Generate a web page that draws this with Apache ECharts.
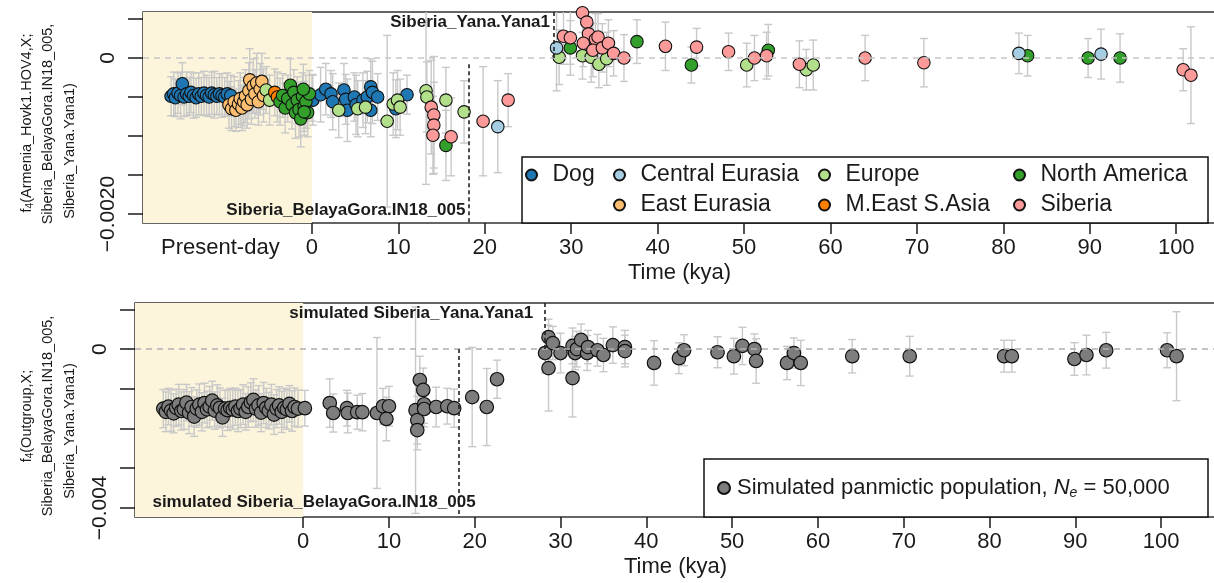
<!DOCTYPE html>
<html>
<head>
<meta charset="utf-8">
<title>f4 over time</title>
<style>
  html, body { margin: 0; padding: 0; background: #fff; }
  #chart { width: 1214px; height: 583px; }
</style>
<script src="https://cdn.jsdelivr.net/npm/echarts/dist/echarts.min.js"></script>
</head>
<body>
<div id="chart"></div>
<script>
// axis extents and ticks
var TOP_X = [-19.55, 104.6];
var TOP_Y = [-0.002115, 0.00059];
var BOT_X = [-19.6, 106.4];
var BOT_Y = [-0.00423, 0.00116];
var xTicks = [0, 10, 20, 30, 40, 50, 60, 70, 80, 90, 100];
var topYTicks = [-0.002, -0.0015, -0.001, -0.0005, 0, 0.0005];
var botYTicks = [-0.004, -0.003, -0.002, -0.001, 0, 0.001];
var topYLabels = [-0.002, 0];
var botYLabels = [-0.004, 0];
var presentDayAt = -10.6;

// reference samples (kya)
var belayaGoraAge = 18.1;
var yanaAge = 28.0;

// [time kya, f4, std err]
var dog = [
  [-16.3,-0.00049,0.00025],[-16.0,-0.00046,0.00028],[-15.8,-0.00051,0.00024],[-15.5,-0.00045,0.00026],
  [-15.2,-0.00048,0.00030],[-15.0,-0.00033,0.00027],[-14.8,-0.00050,0.00025],[-14.5,-0.00046,0.00028],
  [-14.2,-0.00049,0.00024],[-14.0,-0.00044,0.00026],[-13.7,-0.00048,0.00029],[-13.4,-0.00051,0.00025],
  [-13.1,-0.00046,0.00027],[-12.8,-0.00049,0.00024],[-12.5,-0.00045,0.00028],[-12.2,-0.00048,0.00026],
  [-11.9,-0.00050,0.00025],[-11.6,-0.00045,0.00027],[-11.3,-0.00047,0.00030],[-11.0,-0.00049,0.00024],
  [-10.7,-0.00046,0.00026],[-10.4,-0.00048,0.00028],[-10.1,-0.00050,0.00025],[-9.8,-0.00046,0.00027],
  [-9.4,-0.00048,0.00026],
  [0.0,-0.00051,0.00030],[0.1,-0.00054,0.00032],[1.0,-0.00047,0.00035],[1.6,-0.00040,0.00033],
  [2.2,-0.00046,0.00030],[2.4,-0.00056,0.00036],[3.7,-0.00041,0.00034],[3.9,-0.00053,0.00032],
  [4.1,-0.00067,0.00040],[4.9,-0.00050,0.00031],[5.1,-0.00060,0.00038],[5.9,-0.00054,0.00035],
  [6.4,-0.00050,0.00033],[6.8,-0.00037,0.00036],[7.0,-0.00044,0.00040],[6.8,-0.00067,0.00034],
  [7.6,-0.00050,0.00030],[9.7,-0.00065,0.00037],[11.0,-0.00047,0.00025]
];
var eastEurasia = [
  [-9.6,-0.00060,0.00030],[-9.3,-0.00065,0.00028],[-9.0,-0.00056,0.00032],[-8.8,-0.00067,0.00027],
  [-8.5,-0.00059,0.00030],[-8.3,-0.00052,0.00033],[-8.1,-0.00064,0.00029],[-7.9,-0.00056,0.00031],
  [-7.7,-0.00049,0.00034],[-7.5,-0.00060,0.00030],[-7.3,-0.00042,0.00036],[-7.2,-0.00028,0.00040],
  [-7.0,-0.00053,0.00032],[-6.8,-0.00036,0.00035],[-6.6,-0.00046,0.00031],[-6.4,-0.00032,0.00038],
  [-6.2,-0.00056,0.00030],[-6.0,-0.00040,0.00033],[-5.8,-0.00030,0.00036],[-5.6,-0.00048,0.00034]
];
var centralEurasia = [
  [21.5,-0.00088,0.00059],[28.3,0.00013,0.00055],[81.8,0.00006,0.00026],[91.3,0.00005,0.00032]
];
var europe = [
  [-5.3,-0.00041,0.00030],[-4.9,-0.00054,0.00032],[3.1,-0.00067,0.00035],[5.3,-0.00065,0.00036],
  [6.2,-0.00063,0.00034],[8.7,-0.00081,0.00110],[9.4,-0.00059,0.00040],[9.9,-0.00054,0.00038],
  [10.2,-0.00063,0.00036],[13.2,-0.00042,0.00120],[13.3,-0.00050,0.00045],[15.5,-0.00054,0.00042],
  [17.6,-0.00069,0.00040],[28.6,0.00001,0.00035],[31.3,0.00003,0.00030],[32.3,0.00001,0.00032],
  [33.2,-0.00008,0.00030],[34.1,-0.00001,0.00034],[50.3,-0.00009,0.00028],[57.2,-0.00015,0.00026],
  [58.0,-0.00009,0.00032]
];
var meastSAsia = [
  [-4.3,-0.00044,0.00030],[-4.0,-0.00050,0.00032]
];
var northAmerica = [
  [-3.7,-0.00056,0.00030],[-3.4,-0.00048,0.00028],[-3.1,-0.00064,0.00032],[-2.8,-0.00052,0.00030],
  [-2.5,-0.00035,0.00034],[-2.3,-0.00060,0.00031],[-2.1,-0.00044,0.00029],[-1.9,-0.00070,0.00033],
  [-1.7,-0.00054,0.00030],[-1.5,-0.00066,0.00035],[-1.3,-0.00078,0.00036],[-1.1,-0.00049,0.00030],
  [-0.9,-0.00062,0.00032],[-0.7,-0.00056,0.00034],[-0.5,-0.00070,0.00031],[-0.3,-0.00046,0.00030],
  [-1.0,-0.00040,0.00032],[-0.9,-0.00069,0.00030],[15.5,-0.00112,0.00045],[29.9,0.00013,0.00035],
  [37.6,0.00021,0.00028],[43.9,-0.00009,0.00023],[52.8,0.00010,0.00033],[82.8,0.00003,0.00026],
  [89.8,0.00000,0.00025],[93.5,0.00000,0.00031]
];
var siberia = [
  [13.8,-0.00063,0.00060],[14.1,-0.00073,0.00075],[14.1,-0.00086,0.00055],[14.0,-0.00099,0.00050],
  [16.1,-0.00101,0.00050],[19.8,-0.00081,0.00070],[22.7,-0.00054,0.00034],[29.1,0.00028,0.00036],
  [29.9,0.00026,0.00034],[31.3,0.00058,0.00040],[31.8,0.00046,0.00035],[32.0,0.00031,0.00032],
  [31.4,0.00019,0.00030],[32.8,0.00024,0.00033],[33.1,0.00027,0.00030],[32.5,0.00010,0.00034],
  [33.6,0.00013,0.00031],[34.3,0.00019,0.00030],[34.9,0.00006,0.00029],[36.1,0.00000,0.00030],
  [40.9,0.00015,0.00031],[44.5,0.00014,0.00024],[48.2,0.00008,0.00024],[51.2,0.00000,0.00029],
  [52.6,0.00003,0.00030],[56.4,-0.00008,0.00030],[64.0,0.00000,0.00029],[70.8,-0.00006,0.00031],
  [100.8,-0.00015,0.00027],[101.7,-0.00022,0.00062]
];
var simulated = [
  [-16.3,-0.00150,0.00048],[-16.0,-0.00158,0.00050],[-15.7,-0.00145,0.00046],[-15.4,-0.00155,0.00052],
  [-15.1,-0.00162,0.00049],[-14.8,-0.00148,0.00047],[-14.5,-0.00140,0.00051],[-14.2,-0.00156,0.00048],
  [-13.9,-0.00152,0.00050],[-13.6,-0.00135,0.00046],[-13.3,-0.00160,0.00053],[-13.0,-0.00146,0.00049],
  [-12.7,-0.00170,0.00050],[-12.4,-0.00150,0.00047],[-12.1,-0.00140,0.00052],[-11.8,-0.00158,0.00048],
  [-11.5,-0.00136,0.00050],[-11.2,-0.00152,0.00046],[-10.9,-0.00145,0.00051],[-10.6,-0.00130,0.00049],
  [-10.3,-0.00155,0.00047],[-10.0,-0.00142,0.00052],[-9.7,-0.00148,0.00050],[-9.4,-0.00172,0.00048],
  [-9.1,-0.00150,0.00046],[-8.8,-0.00154,0.00051],[-8.5,-0.00148,0.00049],[-8.2,-0.00152,0.00050],
  [-7.9,-0.00145,0.00047],[-7.6,-0.00156,0.00052],[-7.3,-0.00150,0.00048],[-7.0,-0.00140,0.00050],
  [-6.7,-0.00158,0.00046],[-6.4,-0.00146,0.00051],[-6.1,-0.00134,0.00049],[-5.8,-0.00128,0.00053],
  [-5.5,-0.00150,0.00047],[-5.2,-0.00142,0.00050],[-4.9,-0.00160,0.00048],[-4.6,-0.00136,0.00052],
  [-4.3,-0.00148,0.00049],[-4.0,-0.00155,0.00046],[-3.7,-0.00140,0.00051],[-3.4,-0.00165,0.00050],
  [-3.1,-0.00150,0.00048],[-2.8,-0.00142,0.00047],[-2.5,-0.00158,0.00052],[-2.2,-0.00148,0.00049],
  [-1.9,-0.00152,0.00050],[-1.6,-0.00138,0.00046],[-1.3,-0.00156,0.00051],[-1.0,-0.00146,0.00048],
  [-0.6,-0.00150,0.00047],[0.2,-0.00149,0.00045],
  [3.1,-0.00136,0.00061],[3.5,-0.00161,0.00048],[5.1,-0.00149,0.00045],[5.2,-0.00161,0.00050],
  [6.3,-0.00159,0.00043],[6.9,-0.00159,0.00047],[8.6,-0.00161,0.00190],[9.3,-0.00144,0.00045],
  [10.0,-0.00144,0.00050],[9.7,-0.00176,0.00055],[13.1,-0.00154,0.00260],[13.3,-0.00179,0.00060],
  [13.3,-0.00204,0.00050],[13.6,-0.00078,0.00060],[14.0,-0.00103,0.00055],[14.1,-0.00139,0.00048],
  [14.1,-0.00151,0.00045],[15.5,-0.00146,0.00050],[16.8,-0.00144,0.00045],[17.6,-0.00149,0.00048],
  [19.7,-0.00121,0.00125],[21.4,-0.00146,0.00097],[22.6,-0.00076,0.00048],[28.2,-0.00010,0.00050],
  [28.6,0.00030,0.00045],[28.6,-0.00048,0.00108],[29.1,0.00015,0.00042],[30.0,-0.00010,0.00050],
  [31.4,0.00008,0.00045],[31.4,-0.00073,0.00098],[31.7,-0.00010,0.00042],[31.9,0.00000,0.00045],
  [32.4,0.00023,0.00040],[33.1,-0.00010,0.00044],[33.2,0.00005,0.00042],[34.3,-0.00003,0.00040],
  [35.0,-0.00015,0.00042],[36.1,0.00010,0.00046],[37.5,0.00005,0.00042],[37.5,-0.00005,0.00040],
  [40.9,-0.00035,0.00056],[43.8,-0.00023,0.00039],[44.4,-0.00003,0.00039],[48.3,-0.00008,0.00039],
  [50.2,-0.00018,0.00045],[51.2,0.00008,0.00047],[52.6,0.00000,0.00038],[52.8,-0.00030,0.00056],
  [56.4,-0.00035,0.00042],[57.2,-0.00010,0.00038],[58.0,-0.00035,0.00057],[64.0,-0.00018,0.00042],
  [70.7,-0.00018,0.00050],[81.7,-0.00018,0.00040],[82.6,-0.00018,0.00040],[89.9,-0.00025,0.00041],
  [91.3,-0.00015,0.00050],[93.6,-0.00003,0.00045],[100.7,-0.00003,0.00044],[101.8,-0.00018,0.00112]
];

var groups = [
  { name: 'Dog', color: '#1f78b4', data: dog },
  { name: 'East Eurasia', color: '#fdbf6f', data: eastEurasia },
  { name: 'Europe', color: '#b2df8a', data: europe },
  { name: 'M.East S.Asia', color: '#ff7f00', data: meastSAsia },
  { name: 'North America', color: '#33a02c', data: northAmerica },
  { name: 'Central Eurasia', color: '#a6cee3', data: centralEurasia },
  { name: 'Siberia', color: '#fb9a99', data: siberia }
];
var simName = 'Simulated panmictic population';

// y-axis titles, one entry per line
var topTitle = ['{a|f}{s|4}{a|(Armenia_Hovk1.HOV4,X;}', 'Siberia_BelayaGora.IN18_005,', 'Siberia_Yana.Yana1)'];
var botTitle = ['{a|f}{s|4}{a|(Outgroup,X;}', 'Siberia_BelayaGora.IN18_005,', 'Siberia_Yana.Yana1)'];

var FONT = '"Liberation Sans", Arial, Helvetica, sans-serif';
var INK = '#1a1a1a';

function errorBar(params, api) {
  var x = api.value(0), y = api.value(1), e = api.value(2);
  var hi = api.coord([x, y + e]);
  var lo = api.coord([x, y - e]);
  var w = 4;
  var st = { stroke: '#c8c8c8', lineWidth: 1.4 };
  return {
    type: 'group',
    children: [
      { type: 'line', shape: { x1: hi[0], y1: hi[1], x2: lo[0], y2: lo[1] }, style: st },
      { type: 'line', shape: { x1: hi[0] - w, y1: hi[1], x2: hi[0] + w, y2: hi[1] }, style: st },
      { type: 'line', shape: { x1: lo[0] - w, y1: lo[1], x2: lo[0] + w, y2: lo[1] }, style: st }
    ]
  };
}

function xAxisFor(idx, ext, withPresent) {
  var labels = withPresent ? [presentDayAt].concat(xTicks) : xTicks;
  return {
    gridIndex: idx, type: 'value', min: ext[0], max: ext[1],
    axisLine: { show: false, onZero: false }, splitLine: { show: false },
    axisTick: { show: true, customValues: xTicks, length: 11, lineStyle: { color: INK, width: 1.5 } },
    axisLabel: {
      customValues: labels, fontSize: 22, color: INK, margin: 14, fontFamily: FONT,
      formatter: function (v) { return v === presentDayAt ? 'Present-day' : String(v); }
    },
    name: 'Time (kya)', nameLocation: 'middle', nameGap: 39,
    nameTextStyle: { fontSize: 22, color: INK, fontFamily: FONT }
  };
}

function yAxisFor(idx, ext, ticks, labels, fmt) {
  return {
    gridIndex: idx, type: 'value', min: ext[0], max: ext[1],
    axisLine: { show: false, onZero: false }, splitLine: { show: false },
    axisTick: { show: true, customValues: ticks, length: 15, lineStyle: { color: INK, width: 1.5 } },
    axisLabel: {
      customValues: labels, rotate: 90, fontSize: 21, color: INK, margin: 24, fontFamily: FONT,
      formatter: function (v) { return v === 0 ? '0' : fmt; }
    }
  };
}

function guideSeries(idx, xExt, yExt, notes, vlines, zeroColor) {
  return [
    {
      type: 'line', xAxisIndex: idx, yAxisIndex: idx, data: [], z: 0, silent: true,
      markArea: { silent: true, itemStyle: { color: '#fcf5dc' }, data: [[{ xAxis: xExt[0] }, { xAxis: 0 }]] }
    },
    {
      type: 'line', xAxisIndex: idx, yAxisIndex: idx, data: [], z: 1, silent: true,
      markLine: {
        silent: true, symbol: ['none', 'none'], label: { show: false }, animation: false,
        data: [
          { yAxis: 0, lineStyle: { color: zeroColor, type: [6, 5], width: 1.5 } }
        ].concat(vlines.map(function (v) {
          return [
            { coord: [v[0], v[1]], lineStyle: { color: '#222', type: [4, 3], width: 1.6 } },
            { coord: [v[0], v[2]] }
          ];
        }))
      }
    },
    {
      type: 'line', xAxisIndex: idx, yAxisIndex: idx, data: [], z: 6, silent: true,
      markPoint: {
        silent: true, symbolSize: 0, animation: false,
        data: notes.map(function (n) {
          return {
            name: n[0], coord: [n[1], n[2]],
            label: {
              show: true, position: 'left', distance: n[3], formatter: '{b}',
              fontSize: 17, fontWeight: 'bold', color: INK, fontFamily: FONT
            }
          };
        })
      }
    }
  ];
}

var series = [];
series = series.concat(guideSeries(0, TOP_X, TOP_Y,
  [['Siberia_Yana.Yana1', yanaAge, 0.00046, 4], ['Siberia_BelayaGora.IN18_005', belayaGoraAge, -0.00195, 3]],
  [[belayaGoraAge, -0.00008, TOP_Y[0]], [yanaAge, TOP_Y[1], 0]], '#c8c8c8'));
series = series.concat(guideSeries(1, BOT_X, BOT_Y,
  [['simulated Siberia_Yana.Yana1', 28.2, 0.00091, 12], ['simulated Siberia_BelayaGora.IN18_005', 20.1, -0.00386, 0]],
  [[belayaGoraAge, 0, BOT_Y[0]], [28.2, BOT_Y[1], 0]], '#b0b0b0'));

var allTop = [];
groups.forEach(function (g) { allTop = allTop.concat(g.data); });
series.push({ type: 'custom', name: 'errTop', xAxisIndex: 0, yAxisIndex: 0, z: 2, silent: true, clip: true,
  renderItem: errorBar, data: allTop, encode: { x: 0, y: 1 } });
series.push({ type: 'custom', name: 'errBot', xAxisIndex: 1, yAxisIndex: 1, z: 2, silent: true, clip: true,
  renderItem: errorBar, data: simulated, encode: { x: 0, y: 1 } });

groups.forEach(function (g) {
  series.push({
    type: 'scatter', name: g.name, xAxisIndex: 0, yAxisIndex: 0, z: 3,
    symbol: 'circle', symbolSize: 12.5, data: g.data, clip: true,
    itemStyle: { color: g.color, borderColor: '#111', borderWidth: 1.1, opacity: 1 }
  });
});
series.push({
  type: 'scatter', name: simName, xAxisIndex: 1, yAxisIndex: 1, z: 3,
  symbol: 'circle', symbolSize: 13.5, data: simulated, clip: true,
  itemStyle: { color: '#7d7d7d', borderColor: '#111', borderWidth: 1.2, opacity: 1 }
});

function legendCol(left, names) {
  return {
    left: left, top: 163, orient: 'vertical', padding: 0, itemGap: 6, z: 10,
    itemWidth: 32, itemHeight: 11, icon: 'circle', selectedMode: false,
    data: names,
    textStyle: { fontSize: 23, color: INK, fontFamily: FONT, lineHeight: 24 }
  };
}

function titleLine(x, y, text) {
  return {
    type: 'text', x: x, y: y, rotation: Math.PI / 2, z: 5,
    style: {
      text: text.charAt(0) === '{' ? text : '{a|' + text + '}',
      align: 'center', verticalAlign: 'middle', fill: INK,
      rich: {
        a: { fontSize: 14.5, fontFamily: FONT, fill: INK },
        s: { fontSize: 10, fontFamily: FONT, fill: INK, padding: [7, 0, 0, 0] }
      }
    }
  };
}

var chart = echarts.init(document.getElementById('chart'));
chart.setOption({
  animation: false,
  textStyle: { fontFamily: FONT },
  grid: [
    { left: 143, top: 12, width: 1073, height: 211, show: true, borderColor: '#333', borderWidth: 1.5,
      backgroundColor: '#fff', outerBoundsMode: 'none', containLabel: false },
    { left: 135, top: 303, width: 1081, height: 214, show: true, borderColor: '#333', borderWidth: 1.5,
      backgroundColor: '#fff', outerBoundsMode: 'none', containLabel: false }
  ],
  xAxis: [xAxisFor(0, TOP_X, true), xAxisFor(1, BOT_X, false)],
  yAxis: [
    yAxisFor(0, TOP_Y, topYTicks, topYLabels, '\u22120.0020'),
    yAxisFor(1, BOT_Y, botYTicks, botYLabels, '\u22120.004')
  ],
  legend: [
    legendCol(525, ['Dog']),
    legendCol(613, ['Central Eurasia', 'East Eurasia']),
    legendCol(818, ['Europe', 'M.East S.Asia']),
    legendCol(1013, ['North America', 'Siberia']),
    {
      left: 717, top: 476, padding: 0, z: 10, itemWidth: 16, itemHeight: 12, icon: 'circle',
      selectedMode: false, data: [simName],
      formatter: function () { return '{t|Simulated panmictic population, }{i|N}{sub|e}{t| = 50,000}'; },
      textStyle: {
        fontSize: 22, color: INK, fontFamily: FONT, lineHeight: 24,
        rich: {
          t: { fontSize: 22, color: INK, fontFamily: FONT },
          i: { fontSize: 22, color: INK, fontStyle: 'italic', fontFamily: FONT },
          sub: { fontSize: 14, color: INK, fontStyle: 'italic', fontFamily: FONT, verticalAlign: 'bottom', padding: [8, 0, 0, 0] }
        }
      }
    }
  ],
  graphic: [
    { type: 'rect', z: 5, shape: { x: 522, y: 157, width: 686, height: 66 },
      style: { fill: '#fff', stroke: '#111', lineWidth: 1.5 } },
    { type: 'rect', z: 5, shape: { x: 704, y: 459, width: 504, height: 58 },
      style: { fill: '#fff', stroke: '#111', lineWidth: 1.5 } },
    titleLine(27, 123, topTitle[0]),
    titleLine(48, 124, topTitle[1]),
    titleLine(70, 151, topTitle[2]),
    titleLine(27, 416, botTitle[0]),
    titleLine(48, 416, botTitle[1]),
    titleLine(70, 431, botTitle[2])
  ],
  series: series
});
</script>
</body>
</html>
